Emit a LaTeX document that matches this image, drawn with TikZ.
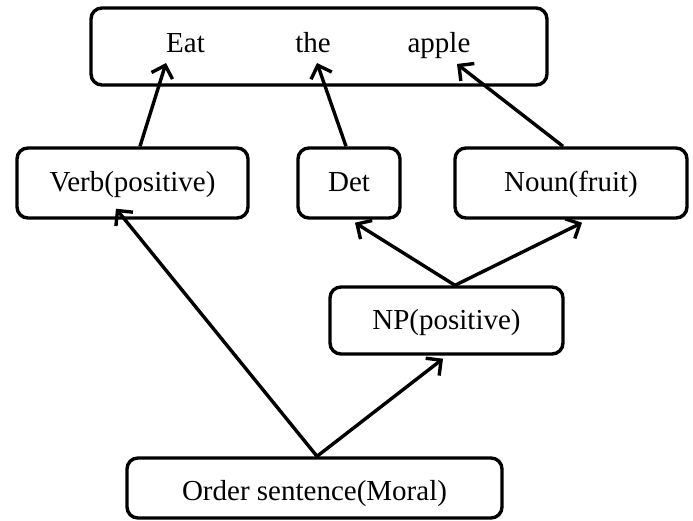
\documentclass[tikz,border=0pt]{standalone}
\usepackage{fontspec}
\setmainfont{Liberation Serif}
\usetikzlibrary{arrows.meta,calc}

\begin{document}
\begin{tikzpicture}[x=1pt,y=-1pt,
  every node/.style={font=\fontsize{29}{34}\selectfont},
  box/.style={draw, line width=3.4pt, rounded corners=11pt, inner sep=0pt,
    text height=24pt, text depth=6pt},
  word/.style={inner sep=0pt, anchor=base},
  arr/.style={line width=3.4pt, -{Straight Barb[length=11pt,width=22pt,line width=3.4pt]}}]
  \useasboundingbox (0,0) rectangle (693,521);

  % sentence box and its words
  \node[box, minimum width=456pt, minimum height=77pt] (sent) at (319,46.5) {};
  \node[word] (eat)   at (185.5,53) {Eat};
  \node[word] (the)   at (313,53)   {the};
  \node[word] (apple) at (439,53)   {apple};

  % part-of-speech boxes
  \node[box, minimum width=231pt, minimum height=70pt] (verb) at (132.5,183) {Verb(positive)};
  \node[box, minimum width=102pt, minimum height=70pt] (det)  at (349,183)   {Det};
  \node[box, minimum width=232pt, minimum height=70pt] (noun) at (571,183)   {Noun(fruit)};
  \node[box, minimum width=233pt, minimum height=67pt] (np)   at (446.5,320.5) {NP(positive)};
  \node[box, minimum width=375pt, minimum height=60pt, text height=30pt] (order) at (314.5,488) {Order sentence(Moral)};

  % arrows up to the words
  \draw[arr] ($(verb.north)+(7.5,0)$) -- ($(eat.base)+(-19.5,10)$);
  \draw[arr] ($(det.north)+(-3,0)$)   -- ($(the.base)+(4,10)$);
  \draw[arr] ($(noun.north)+(-8,0)$)  -- ($(apple.base)+(18,11)$);

  % NP expands to Det and Noun
  \draw[arr] ($(np.north)+(8.5,0)$) -- ($(det.south)+(6,3)$);
  \draw[arr] ($(np.north)+(8.5,0)$) -- ($(noun.south)+(11,3)$);

  % sentence expands to Verb and NP
  \draw[arr] ($(order.north)+(2.5,0)$) -- ($(verb.south)+(-16.5,-11)$);
  \draw[arr] ($(order.north)+(2.5,0)$) -- ($(np.south)+(-3.5,3)$);
\end{tikzpicture}
\end{document}
